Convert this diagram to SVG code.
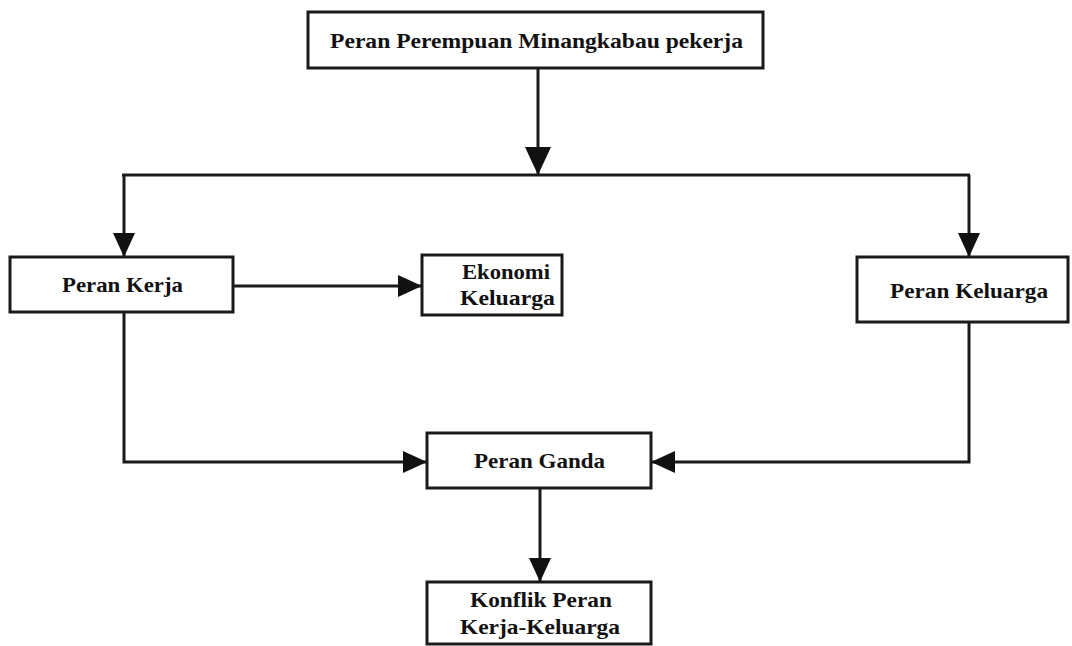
<svg xmlns="http://www.w3.org/2000/svg" width="1072" height="646" viewBox="0 0 1072 646">
<defs>
<style>
.box{fill:#fff;stroke:#1a1a1a;stroke-width:3}
.ln{fill:none;stroke:#1a1a1a;stroke-width:3}
.t{font-family:"Liberation Serif","Times New Roman",serif;font-weight:bold;font-size:21px;fill:#111}
</style>
<marker id="ah" markerUnits="userSpaceOnUse" markerWidth="26" markerHeight="22" refX="24" refY="11" orient="auto">
<path d="M0,0 L24,11 L0,22 Z" fill="#111"/>
</marker>
<marker id="ahb" markerUnits="userSpaceOnUse" markerWidth="30" markerHeight="26" refX="28" refY="13" orient="auto">
<path d="M0,0 L28,13 L0,26 Z" fill="#111"/>
</marker>
</defs>
<rect width="1072" height="646" fill="#fff"/>
<g id="connectors">
<path class="ln" d="M538,68 V175" marker-end="url(#ahb)"/>
<path class="ln" d="M122,175 H970"/>
<path class="ln" d="M124,175 V257" marker-end="url(#ah)"/>
<path class="ln" d="M969,175 V257" marker-end="url(#ah)"/>
<path class="ln" d="M233,286 H422" marker-end="url(#ah)"/>
<path class="ln" d="M124,312 V462 H427" marker-end="url(#ah)"/>
<path class="ln" d="M969,322 V462 H651" marker-end="url(#ah)"/>
<path class="ln" d="M540,488 V582" marker-end="url(#ah)"/>
</g>
<g id="n-top">
<rect class="box" x="308" y="12" width="455" height="56"/>
<text class="t" x="330" y="48" textLength="413" lengthAdjust="spacingAndGlyphs">Peran Perempuan Minangkabau pekerja</text>
</g>
<g id="n-kerja">
<rect class="box" x="10" y="257" width="223" height="55"/>
<text class="t" x="62" y="292" textLength="121" lengthAdjust="spacingAndGlyphs">Peran Kerja</text>
</g>
<g id="n-ekonomi">
<rect class="box" x="422" y="255" width="140" height="60"/>
<text class="t" x="462" y="279" textLength="88" lengthAdjust="spacingAndGlyphs">Ekonomi</text>
<text class="t" x="460" y="305" textLength="95" lengthAdjust="spacingAndGlyphs">Keluarga</text>
</g>
<g id="n-keluarga">
<rect class="box" x="857" y="257" width="211" height="65"/>
<text class="t" x="890" y="298" textLength="158" lengthAdjust="spacingAndGlyphs">Peran Keluarga</text>
</g>
<g id="n-ganda">
<rect class="box" x="427" y="433" width="224" height="55"/>
<text class="t" x="474" y="468" textLength="131" lengthAdjust="spacingAndGlyphs" fill="#333">Peran Ganda</text>
</g>
<g id="n-konflik">
<rect class="box" x="427" y="582" width="224" height="62"/>
<text class="t" x="470" y="607" textLength="142" lengthAdjust="spacingAndGlyphs">Konflik Peran</text>
<text class="t" x="460" y="634" textLength="160" lengthAdjust="spacingAndGlyphs">Kerja-Keluarga</text>
</g>
</svg>
